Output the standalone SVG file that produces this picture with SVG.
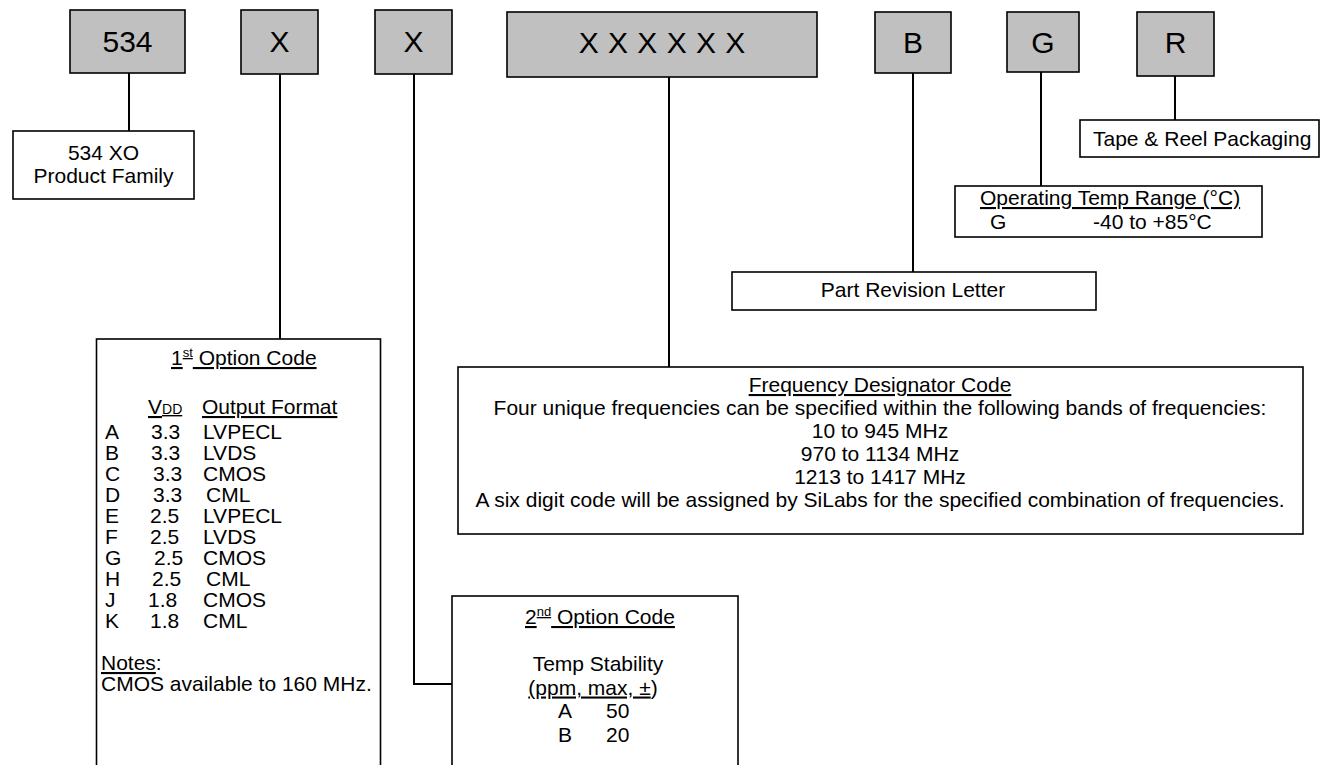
<svg xmlns="http://www.w3.org/2000/svg" width="1320" height="765" viewBox="0 0 1320 765">
  <style>
    text { font-family: "Liberation Sans", Arial, sans-serif; font-size: 21px; fill: #000; }
    .big { font-size: 30px; }
    .key { fill: #c0c0c0; stroke: #000; stroke-width: 1.6; }
    .box { fill: #fff; stroke: #000; stroke-width: 1.6; }
    .wire { fill: none; stroke: #000; stroke-width: 2; }
    .u { text-decoration: underline; }
    .mid { text-anchor: middle; }
  </style>
  <rect width="1320" height="765" fill="#fff"/>

  <!-- connectors from each code field to its description -->
  <g id="connectors">
    <path class="wire" d="M129 73 V131"/>
    <path class="wire" d="M280 74 V339"/>
    <path class="wire" d="M414 74 V684 H452"/>
    <path class="wire" d="M669 77 V367"/>
    <path class="wire" d="M913 73 V272"/>
    <path class="wire" d="M1041 72 V186"/>
    <path class="wire" d="M1175 76 V120"/>
  </g>

  <!-- part number fields -->
  <g id="field-534">
    <rect class="key" x="70" y="10" width="115" height="63"/>
    <text class="big mid" x="127.5" y="52">534</text>
  </g>
  <g id="field-x1">
    <rect class="key" x="241" y="10" width="77" height="64"/>
    <text class="big mid" x="279.5" y="52">X</text>
  </g>
  <g id="field-x2">
    <rect class="key" x="375" y="10" width="77" height="64"/>
    <text class="big mid" x="413.5" y="52">X</text>
  </g>
  <g id="field-freq">
    <rect class="key" x="507" y="12" width="310" height="65"/>
    <text class="big mid" x="662" y="53" word-spacing="1" xml:space="preserve">X X X X X X</text>
  </g>
  <g id="field-b">
    <rect class="key" x="875" y="12" width="76" height="61"/>
    <text class="big mid" x="913" y="53">B</text>
  </g>
  <g id="field-g">
    <rect class="key" x="1007" y="12" width="72" height="60"/>
    <text class="big mid" x="1043" y="53">G</text>
  </g>
  <g id="field-r">
    <rect class="key" x="1137" y="12" width="77" height="64"/>
    <text class="big mid" x="1175.5" y="53">R</text>
  </g>

  <!-- descriptions -->
  <g id="product-family">
    <rect class="box" x="13" y="131" width="181" height="68"/>
    <text class="mid" x="103.5" y="160">534 XO</text>
    <text class="mid" x="103.5" y="183">Product Family</text>
  </g>

  <g id="tape-reel">
    <rect class="box" x="1080" y="120" width="239" height="37"/>
    <text x="1093" y="146">Tape &amp; Reel Packaging</text>
  </g>

  <g id="temp-range">
    <rect class="box" x="955" y="186" width="307" height="51"/>
    <text class="u" x="980" y="205">Operating Temp Range (°C)</text>
    <text x="990" y="229">G</text>
    <text x="1093" y="229">-40 to +85°C</text>
  </g>

  <g id="revision">
    <rect class="box" x="732" y="272" width="364" height="38"/>
    <text class="mid" x="913" y="297">Part Revision Letter</text>
  </g>

  <g id="freq-code">
    <rect class="box" x="458" y="367" width="845" height="167"/>
    <text class="mid u" x="880" y="392">Frequency Designator Code</text>
    <text class="mid" x="880" y="415">Four unique frequencies can be specified within the following bands of frequencies:</text>
    <text class="mid" x="880" y="438">10 to 945 MHz</text>
    <text class="mid" x="880" y="461">970 to 1134 MHz</text>
    <text class="mid" x="880" y="484">1213 to 1417 MHz</text>
    <text class="mid" x="880" y="507">A six digit code will be assigned by SiLabs for the specified combination of frequencies.</text>
  </g>

  <g id="option-1">
    <rect class="box" x="96.5" y="339" width="284" height="440"/>
    <text class="u" x="171" y="365">1<tspan font-size="13" dy="-8">st</tspan><tspan dy="8"> Option Code</tspan></text>
    <text class="u" x="148" y="414">V<tspan font-size="14">DD</tspan></text>
    <text class="u" x="202" y="414">Output Format</text>
    <g id="option-1-rows">
      <text x="105" y="439">A</text><text x="151" y="439">3.3</text><text x="203" y="439">LVPECL</text>
      <text x="105" y="460">B</text><text x="151" y="460">3.3</text><text x="203" y="460">LVDS</text>
      <text x="105" y="481">C</text><text x="153" y="481">3.3</text><text x="203" y="481">CMOS</text>
      <text x="105" y="502">D</text><text x="153" y="502">3.3</text><text x="206" y="502">CML</text>
      <text x="105" y="523">E</text><text x="150" y="523">2.5</text><text x="203" y="523">LVPECL</text>
      <text x="105" y="544">F</text><text x="150" y="544">2.5</text><text x="203" y="544">LVDS</text>
      <text x="105" y="565">G</text><text x="154" y="565">2.5</text><text x="203" y="565">CMOS</text>
      <text x="105" y="586">H</text><text x="152" y="586">2.5</text><text x="206" y="586">CML</text>
      <text x="105" y="607">J</text><text x="148" y="607">1.8</text><text x="203" y="607">CMOS</text>
      <text x="105" y="628">K</text><text x="150" y="628">1.8</text><text x="203" y="628">CML</text>
    </g>
    <text x="101" y="670"><tspan class="u">Notes</tspan>:</text>
    <text x="101" y="691">CMOS available to 160 MHz.</text>
  </g>

  <g id="option-2">
    <rect class="box" x="452" y="596" width="286" height="180"/>
    <text class="u" x="525" y="624">2<tspan font-size="13" dy="-8">nd</tspan><tspan dy="8"> Option Code</tspan></text>
    <text class="mid" x="598" y="671">Temp Stability</text>
    <text class="mid" x="593" y="694.5"><tspan class="u">(ppm, max, ±</tspan>)</text>
    <text x="558" y="718">A</text><text x="606" y="718">50</text>
    <text x="558" y="741.5">B</text><text x="606" y="741.5">20</text>
  </g>
</svg>
